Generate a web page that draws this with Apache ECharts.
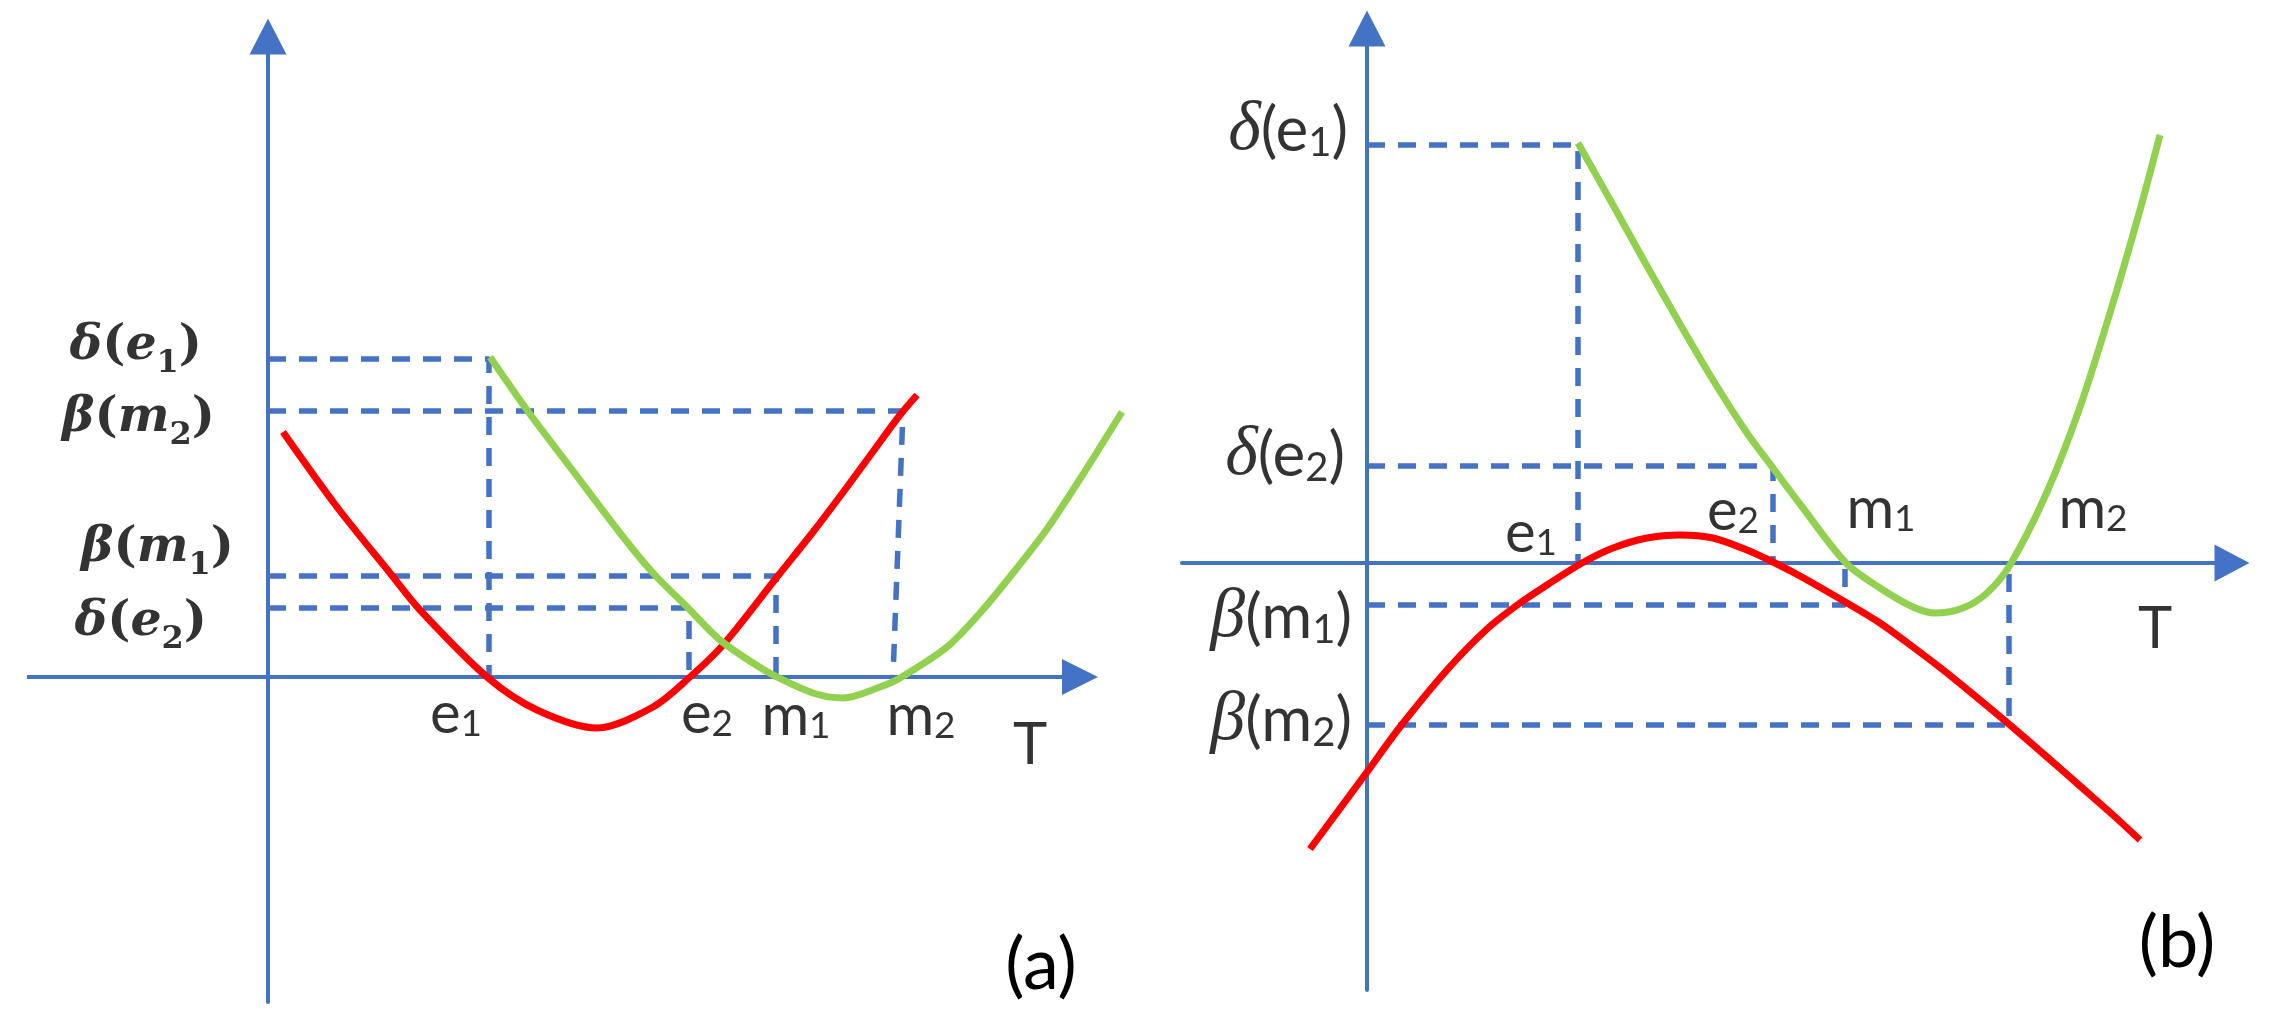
<!DOCTYPE html>
<html>
<head>
<meta charset="utf-8">
<script src="https://cdn.jsdelivr.net/npm/echarts@6/dist/echarts.min.js"></script>
<style>
html,body{margin:0;padding:0;background:#ffffff;}
#chart{width:2270px;height:1026px;}
</style>
</head>
<body>
<div id="chart"></div>
<script>
// ================= DATA =================
// Panel (a): curves as [T, value]
const aRed = [[0.15,2.45],[0.69,1.70],[1.22,1.04],[1.52,0.67],[2.19,0.00],[2.69,-0.33],[3.29,-0.51],[3.85,-0.30],[4.22,0.00],[4.55,0.32],[5.09,1.00],[5.45,1.45],[5.79,1.90],[6.12,2.35],[6.32,2.62],[6.49,2.82]];
const aGreen = [[2.22,3.20],[2.59,2.67],[3.02,2.10],[3.52,1.44],[3.85,1.04],[4.20,0.69],[4.52,0.37],[4.85,0.14],[5.09,0.00],[5.45,-0.16],[5.75,-0.21],[6.12,-0.10],[6.32,-0.01],[6.79,0.30],[7.12,0.64],[7.45,1.04],[7.79,1.48],[8.12,1.98],[8.54,2.65]];
const aTickNames = ['e1','e2','m1','m2'];
const aTickT = [2.21, 4.21, 5.08, 6.25];
const aCornerT = [2.21, 4.21, 5.08, 6.35];
const aLevelNames = ['δ(e1)','β(m2)','β(m1)','δ(e2)'];
const aLevelV = [3.18, 2.66, 1.01, 0.69];
const aGuideLevel = [0, 3, 2, 1];   // tick i is linked to level aGuideLevel[i]

// Panel (b)
const bRed = [[-0.57,-2.86],[0,-2.09],[0.33,-1.64],[0.80,-1.07],[1.20,-0.66],[1.53,-0.40],[1.80,-0.22],[2.15,0.00],[2.46,0.15],[2.80,0.25],[3.13,0.28],[3.46,0.25],[3.80,0.13],[4.06,0.01],[4.33,-0.13],[4.80,-0.40],[5.13,-0.60],[5.46,-0.84],[5.80,-1.10],[6.13,-1.37],[6.43,-1.62],[6.80,-1.94],[7.13,-2.23],[7.46,-2.52],[7.73,-2.77]];
const bGreen = [[2.11,4.20],[2.46,3.58],[2.80,2.97],[3.13,2.39],[3.46,1.83],[3.80,1.30],[4.06,0.95],[4.33,0.59],[4.79,0.00],[5.13,-0.25],[5.46,-0.44],[5.68,-0.50],[5.96,-0.45],[6.20,-0.30],[6.43,-0.02],[6.80,0.71],[7.13,1.56],[7.46,2.60],[7.73,3.53],[7.93,4.28]];
const bTickNames = ['e1','e2','m1','m2'];
const bTickT = [2.11, 4.06, 4.78, 6.42];
const bCornerT = [2.11, 4.06, 4.78, 6.42];
const bLevelNames = ['δ(e1)','δ(e2)','β(m1)','β(m2)'];
const bLevelV = [4.18, 0.97, -0.42, -1.62];
const bGuideLevel = [0, 1, 2, 3];

const axisName = 'T';
const panelTitles = ['(a)', '(b)'];

// ================= LAYOUT / STYLE =================
const C_AXIS = '#4472C4', C_RED = '#FF0000', C_GREEN = '#92D050';
const gridA = {left:27, top:36.5, width:1103, height:965.5};
const gridB = {left:1182, top:28.5, width:1050, height:961.5};
const rangeA = {xmin:-2.41, xmax:8.62, ymin:-3.25, ymax:6.405};
const rangeB = {xmin:-1.85, xmax:8.65, ymin:-4.27, ymax:5.345};
const aAxisEndT = 8.12;           // where panel (a)'s T axis arrow sits
const aTickOffset = [[-33,37],[18,37],[20,39],[28,39]];
const aLevelOffset = [[-66,-13],[-53,7],[-34,-28],[-61,14]];
const bTickOffset = [[-47,-30],[-40,-52],[36,-54],[84,-54]];
const bLevelOffset = [[-19,-14],[-22,-10],[-15,13],[-15,-4]];
const aNameOffset = [-50, 68];
const bNameOffset = [-77, 66];

const rich = {
  ai:{fontFamily:'DejaVu Serif',fontStyle:'italic',fontWeight:'bold',fontSize:49,lineHeight:58,color:'#000',verticalAlign:'middle'},
  ap:{fontFamily:'DejaVu Serif',fontWeight:'bold',fontSize:49,lineHeight:58,color:'#000',verticalAlign:'middle'},
  as:{fontFamily:'DejaVu Serif',fontWeight:'bold',fontSize:32,lineHeight:32,padding:[36,0,0,0],color:'#000',verticalAlign:'middle'},
  bg:{fontFamily:'Liberation Serif',fontStyle:'italic',fontSize:70,lineHeight:72,color:'#000',verticalAlign:'middle'},
  bp:{fontFamily:'Lato',fontSize:62,lineHeight:72,color:'#000',verticalAlign:'middle'},
  bs:{fontFamily:'Lato',fontSize:40,lineHeight:40,padding:[24,0,0,0],color:'#000',verticalAlign:'middle'},
  t:{fontFamily:'Lato',fontSize:58,lineHeight:64,color:'#000',verticalAlign:'middle'},
  ts:{fontFamily:'Lato',fontSize:37,lineHeight:37,padding:[20,0,0,0],color:'#000',verticalAlign:'middle'}
};

function tickFmt(n){ return '{t|' + n[0] + '}' + (n.length > 1 ? '{ts|' + n.slice(1) + '}' : ''); }
function levelFmtA(n){ return '{ai|' + n[0] + '}{ap|(}{ai|' + n[2] + '}{as|' + n[3] + '}{ap|)}'; }
function levelFmtB(n){ return '{bg|' + n[0] + '}{bp|(' + n[2] + '}{bs|' + n[3] + '}{bp|)}'; }

function xAxisOf(idx, r, showLine){
  return {type:'value', gridIndex:idx, min:r.xmin, max:r.xmax,
    axisLine:{show:showLine,onZero:true,symbol:['none','triangle'],symbolSize:[37,35],lineStyle:{color:C_AXIS,width:4}},
    axisTick:{show:false}, axisLabel:{show:false}, splitLine:{show:false}};
}
function yAxisOf(idx, r){
  return {type:'value', gridIndex:idx, min:r.ymin, max:r.ymax,
    axisLine:{show:true,onZero:true,symbol:['none','triangle'],symbolSize:[37,36],lineStyle:{color:C_AXIS,width:4}},
    axisTick:{show:false}, axisLabel:{show:false}, splitLine:{show:false}};
}
function curve(data, color, idx){
  return {type:'line', xAxisIndex:idx, yAxisIndex:idx, data:data, smooth:0.3, symbol:'none', clip:false,
    lineStyle:{color:color,width:7}, z:4, silent:true};
}
function guides(tickT, cornerT, levelV, map, idx){
  return tickT.map(function(t, i){
    const v = levelV[map[i]];
    return {type:'line', xAxisIndex:idx, yAxisIndex:idx, data:[[0,v],[cornerT[i],v],[t,0]],
      symbol:'none', clip:false, lineStyle:{color:C_AXIS,width:5.5,type:[18,13]}, z:3, silent:true};
  });
}
function labelSeries(idx, tickNames, tickT, tickOff, levelNames, levelV, levelOff, levelFmt, nameAnchorT, nameOff){
  const data = [];
  tickNames.forEach(function(n,i){
    data.push({value:[tickT[i],0], label:{formatter:tickFmt(n), offset:tickOff[i], align:'center'}});
  });
  levelNames.forEach(function(n,i){
    data.push({value:[0,levelV[i]], label:{formatter:levelFmt(n), offset:levelOff[i], align:'right'}});
  });
  data.push({value:[nameAnchorT,0], label:{formatter:tickFmt(axisName), offset:nameOff, align:'center'}});
  return {type:'scatter', xAxisIndex:idx, yAxisIndex:idx, data:data, symbol:'circle', symbolSize:0.1,
    itemStyle:{color:'rgba(0,0,0,0)'}, clip:false, silent:true, z:6,
    label:{show:true, position:'inside', verticalAlign:'middle', rich:rich}, emphasis:{disabled:true}};
}

const redA = curve(aRed, C_RED, 0);
// panel (a)'s T axis with arrow, ending before the green curve's right end
redA.markLine = {silent:true, animation:false, symbol:['none','triangle'], symbolSize:36, z:2,
  label:{show:false}, emphasis:{disabled:true},
  lineStyle:{color:C_AXIS,width:4,type:'solid'},
  data:[[{coord:[rangeA.xmin,0]},{coord:[aAxisEndT,0]}]]};

const titleStyle = {fontFamily:'Lato',fontSize:72,fontWeight:'normal',color:'#000'};
const option = {
  animation:false,
  backgroundColor:'#ffffff',
  title:[
    {text:panelTitles[0], left:1041, top:966, textAlign:'center', textVerticalAlign:'middle', padding:0, textStyle:titleStyle},
    {text:panelTitles[1], left:2177, top:944, textAlign:'center', textVerticalAlign:'middle', padding:0, textStyle:titleStyle}
  ],
  grid:[
    Object.assign({containLabel:false, outerBoundsMode:'none'}, gridA),
    Object.assign({containLabel:false, outerBoundsMode:'none'}, gridB)
  ],
  xAxis:[xAxisOf(0, rangeA, false), xAxisOf(1, rangeB, true)],
  yAxis:[yAxisOf(0, rangeA), yAxisOf(1, rangeB)],
  series:[].concat(
    guides(aTickT, aCornerT, aLevelV, aGuideLevel, 0),
    guides(bTickT, bCornerT, bLevelV, bGuideLevel, 1),
    [redA, curve(aGreen, C_GREEN, 0), curve(bRed, C_RED, 1), curve(bGreen, C_GREEN, 1)],
    [labelSeries(0, aTickNames, aTickT, aTickOffset, aLevelNames, aLevelV, aLevelOffset, levelFmtA, aAxisEndT, aNameOffset),
     labelSeries(1, bTickNames, bTickT, bTickOffset, bLevelNames, bLevelV, bLevelOffset, levelFmtB, rangeB.xmax, bNameOffset)]
  )
};
const chart = echarts.init(document.getElementById('chart'), null, {renderer:'canvas'});
chart.setOption(option);
</script>
</body>
</html>
